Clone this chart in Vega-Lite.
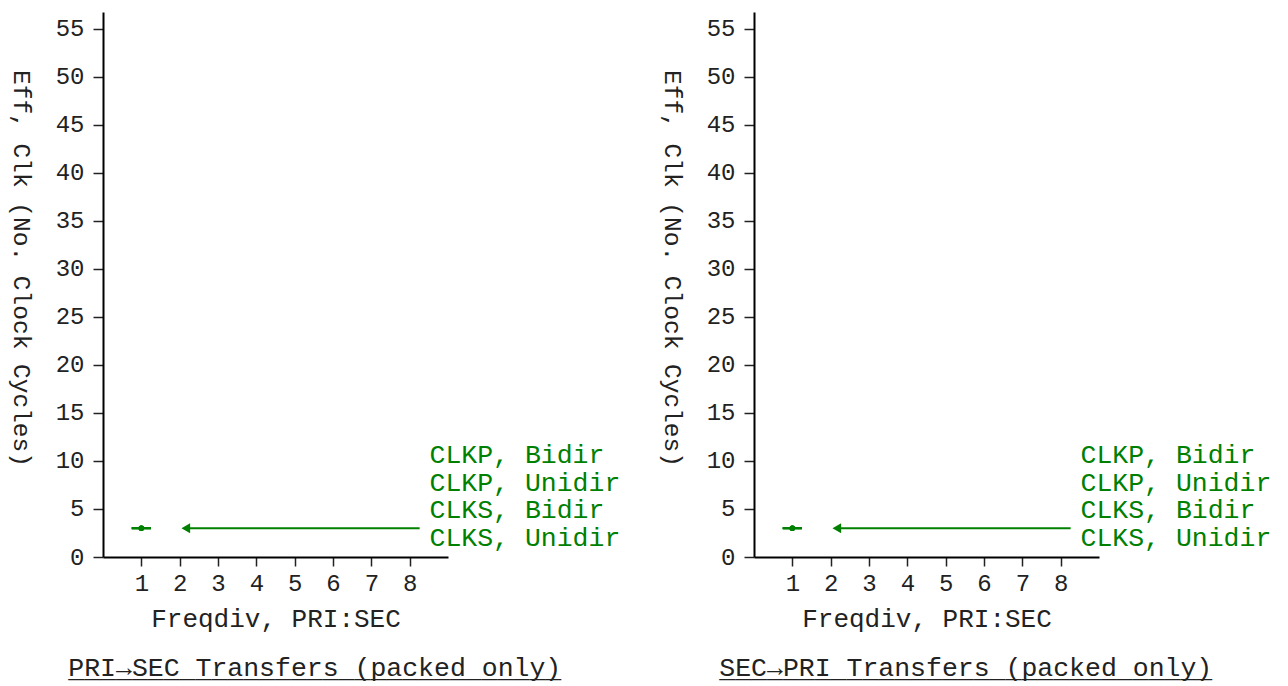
{
  "$schema": "https://vega.github.io/schema/vega-lite/v6.json",
  "padding": {"left": 8, "top": 12, "right": 5, "bottom": 0},
  "background": "white",
  "config": {
    "view": {"stroke": null},
    "font": "Liberation Mono",
    "axis": {
      "grid": false,
      "domainColor": "black",
      "domainWidth": 2,
      "tickColor": "#222",
      "tickWidth": 1.5,
      "labelFont": "Liberation Mono",
      "labelFontSize": 24,
      "labelColor": "#222",
      "titleFont": "Liberation Mono",
      "titleFontWeight": "normal",
      "titleColor": "#222"
    },
    "legend": {"labelFont": "Liberation Mono"}
  },
  "datasets": {
    "series": [
      {"series": "CLKP, Bidir", "freqdiv": 1, "eff": 3, "xlo": 0.75, "xhi": 1.25},
      {"series": "CLKP, Unidir", "freqdiv": 1, "eff": 3, "xlo": 0.75, "xhi": 1.25},
      {"series": "CLKS, Bidir", "freqdiv": 1, "eff": 3, "xlo": 0.75, "xhi": 1.25},
      {"series": "CLKS, Unidir", "freqdiv": 1, "eff": 3, "xlo": 0.75, "xhi": 1.25}
    ],
    "arrow": [
      {"ax": 8.26, "ay": 3},
      {"ax": 2.2, "ay": 3}
    ],
    "arrowhead": [
      {"ax": 2.16, "ay": 3}
    ]
  },
  "hconcat": [
    {
      "width": 345,
      "height": 545,
      "title": {
        "text": "PRI→SEC Transfers (packed only)",
        "subtitle": "_______________________________",
        "orient": "bottom",
        "anchor": "middle",
        "frame": "bounds",
        "font": "Liberation Mono",
        "fontSize": 26.5,
        "fontWeight": "normal",
        "color": "#222",
        "subtitleFont": "Liberation Mono",
        "subtitleFontSize": 26.5,
        "subtitleColor": "#222",
        "subtitlePadding": -26,
        "offset": 24
      },
      "layer": [
        {
          "data": {"name": "series"},
          "mark": {"type": "rule", "strokeWidth": 2},
          "encoding": {
            "x": {"field": "xlo", "type": "quantitative", "scale": {"domain": [0, 9], "nice": false, "zero": false},
              "axis": {"title": "Freqdiv, PRI:SEC", "values": [1, 2, 3, 4, 5, 6, 7, 8], "tickSize": 9, "labelPadding": 5, "titleFontSize": 26, "titlePadding": 10}},
            "x2": {"field": "xhi"},
            "y": {"field": "eff", "type": "quantitative", "scale": {"domain": [0, 56.77], "nice": false},
              "axis": {"title": "Eff, Clk (No. Clock Cycles)", "values": [0, 5, 10, 15, 20, 25, 30, 35, 40, 45, 50, 55], "tickSize": 10, "labelPadding": 9, "titleFontSize": 24.5, "titleAngle": 90, "titleBaseline": "middle", "titleAlign": "center", "titleX": -83, "titleY": 256}},
            "color": {"field": "series", "type": "nominal",
              "scale": {"range": ["#008000", "#008000", "#008000", "#008000"]},
              "legend": {"orient": "none", "legendX": 300, "legendY": 430, "title": null, "symbolOpacity": 0, "symbolSize": 0, "symbolStrokeWidth": 0, "labelOffset": 0, "labelFontSize": 26.5, "labelColor": "#008000", "rowPadding": 0.5, "labelLimit": 400}}
          }
        },
        {
          "data": {"name": "series"},
          "mark": {"type": "point", "filled": true, "size": 30, "opacity": 1},
          "encoding": {
            "x": {"field": "freqdiv", "type": "quantitative"},
            "y": {"field": "eff", "type": "quantitative"},
            "color": {"field": "series", "type": "nominal"}
          }
        },
        {
          "data": {"name": "arrow"},
          "mark": {"type": "line", "color": "#008000", "strokeWidth": 2},
          "encoding": {
            "x": {"field": "ax", "type": "quantitative"},
            "y": {"field": "ay", "type": "quantitative"}
          }
        },
        {
          "data": {"name": "arrowhead"},
          "mark": {"type": "point", "shape": "triangle-left", "filled": true, "size": 100, "color": "#008000", "opacity": 1},
          "encoding": {
            "x": {"field": "ax", "type": "quantitative"},
            "y": {"field": "ay", "type": "quantitative"}
          }
        }
      ]
    },
    {
      "width": 345,
      "height": 545,
      "title": {
        "text": "SEC→PRI Transfers (packed only)",
        "subtitle": "_______________________________",
        "orient": "bottom",
        "anchor": "middle",
        "frame": "bounds",
        "font": "Liberation Mono",
        "fontSize": 26.5,
        "fontWeight": "normal",
        "color": "#222",
        "subtitleFont": "Liberation Mono",
        "subtitleFontSize": 26.5,
        "subtitleColor": "#222",
        "subtitlePadding": -26,
        "offset": 24
      },
      "layer": [
        {
          "data": {"name": "series"},
          "mark": {"type": "rule", "strokeWidth": 2},
          "encoding": {
            "x": {"field": "xlo", "type": "quantitative", "scale": {"domain": [0, 9], "nice": false, "zero": false},
              "axis": {"title": "Freqdiv, PRI:SEC", "values": [1, 2, 3, 4, 5, 6, 7, 8], "tickSize": 9, "labelPadding": 5, "titleFontSize": 26, "titlePadding": 10}},
            "x2": {"field": "xhi"},
            "y": {"field": "eff", "type": "quantitative", "scale": {"domain": [0, 56.77], "nice": false},
              "axis": {"title": "Eff, Clk (No. Clock Cycles)", "values": [0, 5, 10, 15, 20, 25, 30, 35, 40, 45, 50, 55], "tickSize": 10, "labelPadding": 9, "titleFontSize": 24.5, "titleAngle": 90, "titleBaseline": "middle", "titleAlign": "center", "titleX": -83, "titleY": 256}},
            "color": {"field": "series", "type": "nominal",
              "scale": {"range": ["#008000", "#008000", "#008000", "#008000"]},
              "legend": {"orient": "none", "legendX": 300, "legendY": 430, "title": null, "symbolOpacity": 0, "symbolSize": 0, "symbolStrokeWidth": 0, "labelOffset": 0, "labelFontSize": 26.5, "labelColor": "#008000", "rowPadding": 0.5, "labelLimit": 400}}
          }
        },
        {
          "data": {"name": "series"},
          "mark": {"type": "point", "filled": true, "size": 30, "opacity": 1},
          "encoding": {
            "x": {"field": "freqdiv", "type": "quantitative"},
            "y": {"field": "eff", "type": "quantitative"},
            "color": {"field": "series", "type": "nominal"}
          }
        },
        {
          "data": {"name": "arrow"},
          "mark": {"type": "line", "color": "#008000", "strokeWidth": 2},
          "encoding": {
            "x": {"field": "ax", "type": "quantitative"},
            "y": {"field": "ay", "type": "quantitative"}
          }
        },
        {
          "data": {"name": "arrowhead"},
          "mark": {"type": "point", "shape": "triangle-left", "filled": true, "size": 100, "color": "#008000", "opacity": 1},
          "encoding": {
            "x": {"field": "ax", "type": "quantitative"},
            "y": {"field": "ay", "type": "quantitative"}
          }
        }
      ]
    }
  ],
  "spacing": 38,
  "resolve": {"legend": {"color": "independent"}, "scale": {"color": "independent"}}
}
